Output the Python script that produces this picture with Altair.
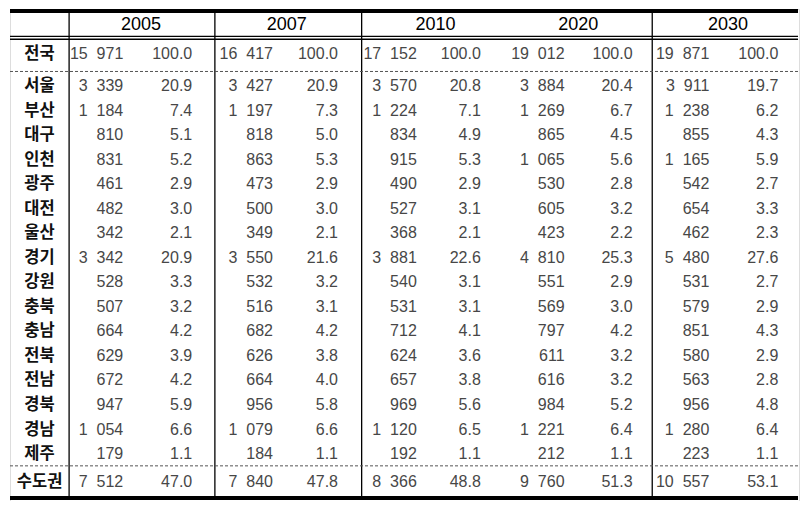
import altair as alt
import pandas as pd

# ---------------- data ----------------
years = ["2005", "2007", "2010", "2020", "2030"]
regions = ["전국", "서울", "부산", "대구", "인천", "광주", "대전", "울산", "경기",
           "강원", "충북", "충남", "전북", "전남", "경북", "경남", "제주", "수도권"]

pop_2005 = [15971, 3339, 1184, 810, 831, 461, 482, 342, 3342, 528, 507, 664, 629, 672, 947, 1054, 179, 7512]
pct_2005 = [100.0, 20.9, 7.4, 5.1, 5.2, 2.9, 3.0, 2.1, 20.9, 3.3, 3.2, 4.2, 3.9, 4.2, 5.9, 6.6, 1.1, 47.0]
pop_2007 = [16417, 3427, 1197, 818, 863, 473, 500, 349, 3550, 532, 516, 682, 626, 664, 956, 1079, 184, 7840]
pct_2007 = [100.0, 20.9, 7.3, 5.0, 5.3, 2.9, 3.0, 2.1, 21.6, 3.2, 3.1, 4.2, 3.8, 4.0, 5.8, 6.6, 1.1, 47.8]
pop_2010 = [17152, 3570, 1224, 834, 915, 490, 527, 368, 3881, 540, 531, 712, 624, 657, 969, 1120, 192, 8366]
pct_2010 = [100.0, 20.8, 7.1, 4.9, 5.3, 2.9, 3.1, 2.1, 22.6, 3.1, 3.1, 4.1, 3.6, 3.8, 5.6, 6.5, 1.1, 48.8]
pop_2020 = [19012, 3884, 1269, 865, 1065, 530, 605, 423, 4810, 551, 569, 797, 611, 616, 984, 1221, 212, 9760]
pct_2020 = [100.0, 20.4, 6.7, 4.5, 5.6, 2.8, 3.2, 2.2, 25.3, 2.9, 3.0, 4.2, 3.2, 3.2, 5.2, 6.4, 1.1, 51.3]
pop_2030 = [19871, 3911, 1238, 855, 1165, 542, 654, 462, 5480, 531, 579, 851, 580, 563, 956, 1280, 223, 10557]
pct_2030 = [100.0, 19.7, 6.2, 4.3, 5.9, 2.7, 3.3, 2.3, 27.6, 2.7, 2.9, 4.3, 2.9, 2.8, 4.8, 6.4, 1.1, 53.1]

pops = [pop_2005, pop_2007, pop_2010, pop_2020, pop_2030]
pcts = [pct_2005, pct_2007, pct_2010, pct_2020, pct_2030]

# ---------------- layout (reference pixel grid) ----------------
W, H = 793, 493
X_DOMAIN = [0, 801]
Y_DOMAIN = [2, 506]

label_x = 30
header_x = [133, 281, 432, 577, 729]
num_right = [115, 267, 413, 563, 710]
pct_right = [185, 333, 478, 632, 780]
header_y = 18
row_y = [48] + [81 + i * 25.13 for i in range(16)] + [487]

FIG = "\u2007"


def fmt_pop(v):
    return f"{v:,}".replace(",", FIG)


label_rows, num_rows, head_rows = [], [], []
for r, name in enumerate(regions):
    label_rows.append({"x": label_x, "y": row_y[r], "t": name})
    for c in range(len(years)):
        num_rows.append({"x": num_right[c], "y": row_y[r], "t": fmt_pop(pops[c][r])})
        num_rows.append({"x": pct_right[c], "y": row_y[r], "t": f"{pcts[c][r]:.1f}"})
for c, yr in enumerate(years):
    head_rows.append({"x": header_x[c], "y": header_y, "t": yr})

labels_df = pd.DataFrame(label_rows)
nums_df = pd.DataFrame(num_rows)
heads_df = pd.DataFrame(head_rows)

thick_df = pd.DataFrame({"x": [0, 0], "x2": [800, 800], "y": [4, 503], "y2": [4, 503]})
thin_df = pd.DataFrame({
    "x": [0, 0, 60, 208, 357, 652],
    "x2": [800, 800, 60, 208, 357, 652],
    "y": [30, 33, 4, 4, 4, 4],
    "y2": [30, 33, 503, 503, 503, 503],
})
dash_df = pd.DataFrame({"x": [0, 0], "x2": [800, 800], "y": [66, 470], "y2": [66, 470]})

xs = alt.Scale(domain=X_DOMAIN, nice=False, zero=False)
ys = alt.Scale(domain=Y_DOMAIN, nice=False, zero=False, reverse=True)


def rules(df, width, color, dash=None):
    kw = dict(strokeWidth=width, color=color)
    if dash:
        kw["strokeDash"] = dash
    return alt.Chart(df).mark_rule(**kw).encode(
        x=alt.X("x:Q", scale=xs, axis=None),
        x2="x2:Q",
        y=alt.Y("y:Q", scale=ys, axis=None),
        y2="y2:Q",
    )


def texts(df, align, font, size, color, weight="normal"):
    return alt.Chart(df).mark_text(
        align=align, baseline="middle", font=font, fontSize=size,
        color=color, fontWeight=weight,
    ).encode(
        x=alt.X("x:Q", scale=xs, axis=None),
        y=alt.Y("y:Q", scale=ys, axis=None),
        text="t:N",
    )


chart = alt.layer(
    rules(thin_df, 1.3, "#000000"),
    rules(dash_df, 1, "#555555", [3, 2]),
    rules(thick_df, 4, "#000000"),
    texts(heads_df, "center", "Liberation Sans", 18, "#000000"),
    texts(labels_df, "center", "Noto Sans CJK KR", 16.5, "#111111", "bold"),
    texts(nums_df, "right", "Liberation Sans", 16, "#474747"),
).properties(
    width=W, height=H, padding=0,
    autosize=alt.AutoSizeParams(type="fit", contains="padding"),
).configure_view(strokeWidth=0).configure(background="white")

chart.save("out.html", embed_options={"renderer": "svg", "actions": False})
